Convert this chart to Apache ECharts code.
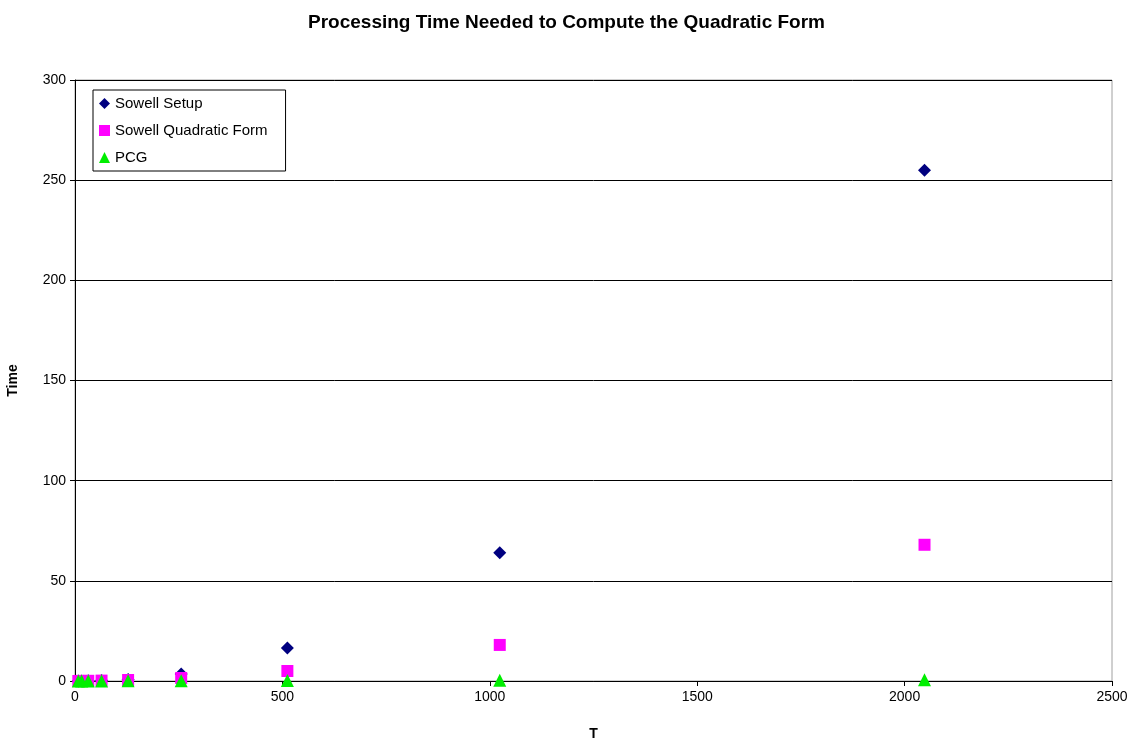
<!DOCTYPE html>
<html><head><meta charset="utf-8">
<script src="https://cdn.jsdelivr.net/npm/echarts@6/dist/echarts.min.js"></script>
<style>html,body{margin:0;padding:0;background:#fff}#c{width:1133px;height:747px}</style>
</head><body><div id="c"></div>
<script>
const T = [8, 16, 32, 64, 128, 256, 512, 1024, 2048];
const sowellSetup = [0.02, 0.05, 0.1, 0.2, 0.8, 3.5, 16.5, 64, 255];
const sowellQuad = [0.02, 0.05, 0.1, 0.2, 0.5, 1.5, 5, 18, 68];
const pcg = [0.01, 0.02, 0.03, 0.05, 0.08, 0.1, 0.2, 0.4, 0.6];
const yTicks = [0, 50, 100, 150, 200, 250, 300];
const xTicks = [0, 500, 1000, 1500, 2000, 2500];
const F = 'Liberation Sans, Arial, sans-serif';
const pairs = a => T.map((t, i) => [t, a[i]]);
const chart = echarts.init(document.getElementById('c'));
chart.setOption({
  animation: false,
  backgroundColor: '#fff',
  title: { text: 'Processing Time Needed to Compute the Quadratic Form', left: 'center', top: 8,
    textStyle: { fontFamily: F, fontSize: 19, fontWeight: 'bold', color: '#000' } },
  grid: { left: 75, right: 21, top: 80, bottom: 66, show: true, borderColor: '#a0a0a0', borderWidth: 1,
    containLabel: false, outerBoundsMode: 'none' },
  legend: { orient: 'vertical', left: 93, top: 90, padding: [6, 18, 6, 6], itemGap: 12,
    borderColor: '#000', borderWidth: 1, itemWidth: 11, itemHeight: 11,
    textStyle: { fontFamily: F, fontSize: 15, color: '#000' },
    data: ['Sowell Setup', 'Sowell Quadratic Form', 'PCG'] },
  xAxis: { type: 'value', min: 0, max: 2500, interval: 500, name: 'T', nameLocation: 'middle', nameGap: 46,
    nameTextStyle: { fontFamily: F, fontSize: 14, fontWeight: 'bold', color: '#000' },
    axisLine: { lineStyle: { color: '#000' } }, axisTick: { show: true, length: 5, lineStyle: { color: '#000' } },
    axisLabel: { fontFamily: F, fontSize: 14, color: '#000', margin: 9, formatter: v => String(v) }, splitLine: { show: false } },
  yAxis: { type: 'value', min: 0, max: 300, interval: 50, name: 'Time', nameLocation: 'middle', nameGap: 55,
    nameTextStyle: { fontFamily: F, fontSize: 14, fontWeight: 'bold', color: '#000' },
    axisLine: { show: true, lineStyle: { color: '#000' } }, axisTick: { show: true, length: 5, lineStyle: { color: '#000' } },
    axisLabel: { fontFamily: F, fontSize: 14, color: '#000', margin: 9, formatter: v => String(v) },
    splitLine: { show: true, lineStyle: { color: '#000', width: 1 } } },
  series: [
    { name: 'Sowell Setup', type: 'scatter', symbol: 'diamond', symbolSize: 13, itemStyle: { color: '#000080', opacity: 1 }, data: pairs(sowellSetup), z: 3 },
    { name: 'Sowell Quadratic Form', type: 'scatter', symbol: 'rect', symbolSize: 12, itemStyle: { color: '#ff00ff', opacity: 1 }, data: pairs(sowellQuad), z: 4 },
    { name: 'PCG', type: 'scatter', symbol: 'triangle', symbolSize: 13, itemStyle: { color: '#00ee00', opacity: 1 }, data: pairs(pcg), z: 5 }
  ]
});
</script></body></html>
